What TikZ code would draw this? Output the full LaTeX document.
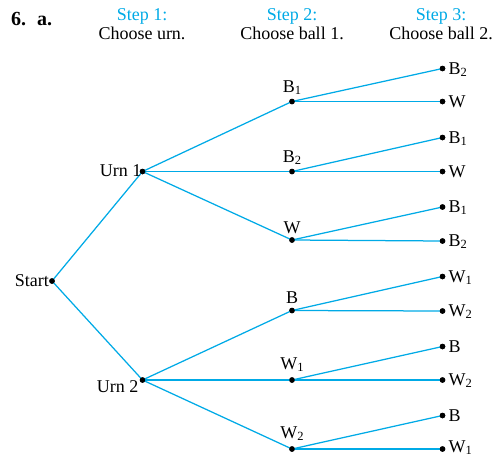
\documentclass[tikz,border=0pt]{standalone}
\usepackage{fontspec}
\setmainfont{Liberation Serif}
\definecolor{treeblue}{RGB}{0,170,230}
\newcommand\sbs[1]{\raisebox{-0.3ex}{\fontsize{12.5}{12.5}\selectfont #1}}
\begin{document}
\begin{tikzpicture}[x=1pt,y=-1pt,
  dot/.style={circle,fill=black,inner sep=0pt,minimum size=5.5pt},
  branch/.style={draw=treeblue,line width=1.25pt},
  lbl/.style={inner sep=0pt,font=\fontsize{18}{21}\selectfont},
  steplbl/.style={lbl,text=treeblue},
  lvltwo/.style={lbl,anchor=base},
  lvlthree/.style={lbl,anchor=base west}]
\useasboundingbox (0,0) rectangle (498,458);
% header
\node[lbl,anchor=base west,font=\fontsize{20}{23}\selectfont\bfseries] (hdr) at (11,25) {6.\hspace{0.55em}a.};
\node[steplbl,anchor=base] (s1) at (142,20) {Step 1:};
\node[lbl,anchor=base] (s1b) at (142,39) {Choose urn.};
\node[steplbl,anchor=base] (s2) at (292,20) {Step 2:};
\node[lbl,anchor=base] (s2b) at (292,39) {Choose ball 1.};
\node[steplbl,anchor=base] (s3) at (441,20) {Step 3:};
\node[lbl,anchor=base] (s3b) at (441,39) {Choose ball 2.};
% dots
\node[dot] (start) at (52,281) {};
\node[dot] (u1) at (142.5,171.5) {};
\node[dot] (u2) at (142.5,380) {};
\node[dot] (a1) at (292,101.5) {};
\node[dot] (a2) at (292,171.5) {};
\node[dot] (a3) at (292,240) {};
\node[dot] (a4) at (292,310.5) {};
\node[dot] (a5) at (292,380) {};
\node[dot] (a6) at (292,449) {};
\node[dot] (c1) at (442.5,68.5) {};
\node[dot] (c2) at (442.5,101.5) {};
\node[dot] (c3) at (442.5,137.5) {};
\node[dot] (c4) at (442.5,171.5) {};
\node[dot] (c5) at (442.5,207) {};
\node[dot] (c6) at (442.5,241) {};
\node[dot] (c7) at (442.5,276.5) {};
\node[dot] (c8) at (442.5,311) {};
\node[dot] (c9) at (442.5,346.5) {};
\node[dot] (c10) at (442.5,380) {};
\node[dot] (c11) at (442.5,415.5) {};
\node[dot] (c12) at (442.5,449) {};
% branches
\draw[branch] (start.center) -- (u1.center);
\draw[branch] (start.center) -- (u2.center);
\foreach \u/\a in {u1/a1,u1/a2,u1/a3,u2/a4,u2/a5,u2/a6}
  \draw[branch] (\u.center) -- (\a.center);
\foreach \a/\c in {a1/c1,a1/c2,a2/c3,a2/c4,a3/c5,a3/c6,a4/c7,a4/c8,a5/c9,a5/c10,a6/c11,a6/c12}
  \draw[branch] (\a.center) -- (\c.center);
% redraw dots on top
\foreach \n in {start,u1,u2,a1,a2,a3,a4,a5,a6,c1,c2,c3,c4,c5,c6,c7,c8,c9,c10,c11,c12}
  \fill (\n.center) circle (2.75pt);
% labels
\node[lbl,anchor=base east] (lstart) at ([xshift=-3pt,yshift=-5pt]start.center) {Start};
\node[lbl,anchor=base east] (lu1) at ([xshift=-1pt,yshift=-5pt]u1.center) {Urn 1};
\node[lbl,anchor=base east] (lu2) at ([xshift=-4pt,yshift=-12pt]u2.center) {Urn 2};
\node[lvltwo] (la1) at ([yshift=9pt]a1.center) {B\sbs{1}};
\node[lvltwo] (la2) at ([yshift=9.5pt]a2.center) {B\sbs{2}};
\node[lvltwo] (la3) at ([yshift=7pt]a3.center) {W};
\node[lvltwo] (la4) at ([yshift=7pt]a4.center) {B};
\node[lvltwo] (la5) at ([yshift=11pt]a5.center) {W\sbs{1}};
\node[lvltwo] (la6) at ([yshift=11pt]a6.center) {W\sbs{2}};
\foreach \c/\t in {c1/B\sbs{2},c2/W,c3/B\sbs{1},c4/W,c5/B\sbs{1},c6/B\sbs{2},c7/W\sbs{1},c8/W\sbs{2},c9/B,c10/W\sbs{2},c11/B}
  \node[lvlthree] (l\c) at ([xshift=6pt,yshift=-5.5pt]\c.center) {\t};
\node[lvlthree] (lc12) at ([xshift=6pt,yshift=-3.5pt]c12.center) {W\sbs{1}};
\end{tikzpicture}
\end{document}
